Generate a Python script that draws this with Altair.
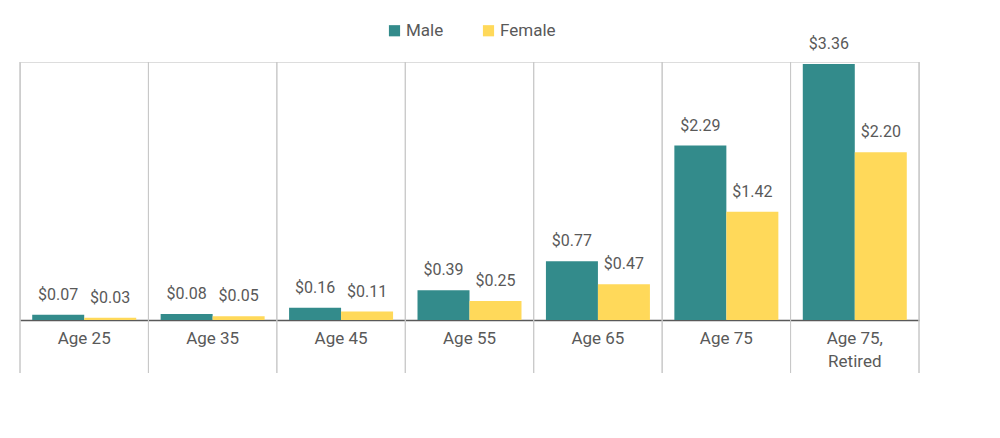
import altair as alt
import pandas as pd

groups = ["Age 25", "Age 35", "Age 45", "Age 55", "Age 65", "Age 75", "Age 75, Retired"]
genders = ["Male", "Female"]
male = [0.07, 0.08, 0.16, 0.39, 0.77, 2.29, 3.36]
female = [0.03, 0.05, 0.11, 0.25, 0.47, 1.42, 2.20]
colors = ["#338B8B", "#FFD95A"]

rows = []
for g, m, f in zip(groups, male, female):
    rows.append({"group": g, "gender": "Male", "value": m})
    rows.append({"group": g, "gender": "Female", "value": f})
df = pd.DataFrame(rows)

TXT = "#595959"
FONT = "Roboto"

xscale = alt.Scale(paddingInner=0, paddingOuter=0)
x_axis = alt.Axis(
    title=None, labelAngle=0, ticks=False, grid=False,
    domainColor=TXT, domainWidth=1.5,
    labelFontSize=17, labelColor=TXT, labelPadding=10, labelLineHeight=23,
    labelExpr="datum.label == 'Age 75, Retired' ? ['Age 75,', 'Retired'] : datum.label",
)
x = alt.X("group:N", sort=groups, scale=xscale, axis=x_axis)
xoff = alt.XOffset("gender:N", sort=genders,
                   scale=alt.Scale(paddingOuter=0.235, paddingInner=0))
y = alt.Y("value:Q", scale=alt.Scale(domain=[0, 3.386], nice=False), axis=None)

base = alt.Chart(df)

rules = base.mark_rule(color="#c8c8c8", strokeWidth=1).encode(
    x=alt.X("group:N", sort=groups, scale=xscale, bandPosition=0, axis=x_axis),
    y=alt.value(0), y2=alt.value(311),
)
rule_end = base.transform_filter(
    alt.datum.group == groups[-1]
).mark_rule(color="#c8c8c8", strokeWidth=1).encode(
    x=alt.X("group:N", sort=groups, scale=xscale, bandPosition=1, axis=x_axis),
    y=alt.value(0), y2=alt.value(311),
)

bars = base.mark_bar().encode(
    x=x, xOffset=xoff, y=y,
    color=alt.Color("gender:N", sort=genders,
                    scale=alt.Scale(domain=genders, range=colors),
                    legend=alt.Legend(orient="none", legendX=366, legendY=-40,
                                      direction="horizontal", title=None,
                                      symbolType="square", symbolSize=125,
                                      symbolStrokeWidth=0, labelFontSize=17,
                                      labelColor=TXT, columnPadding=36,
                                      labelOffset=3, padding=0)),
)

labels = base.mark_text(fontSize=16, color=TXT, baseline="middle", dy=-20, font=FONT).encode(
    x=x, xOffset=xoff, y=y,
    text=alt.Text("value:Q", format="$.2f"),
)

chart = alt.layer(rules, rule_end, bars, labels).properties(
    width=899, height=258,
    autosize=alt.AutoSizeParams(type="none"),
    padding={"left": 12, "top": 54, "right": 60, "bottom": 100},
).configure_view(stroke=None).configure(font=FONT)

chart.save("out.html", embed_options={"renderer": "svg", "actions": False})
